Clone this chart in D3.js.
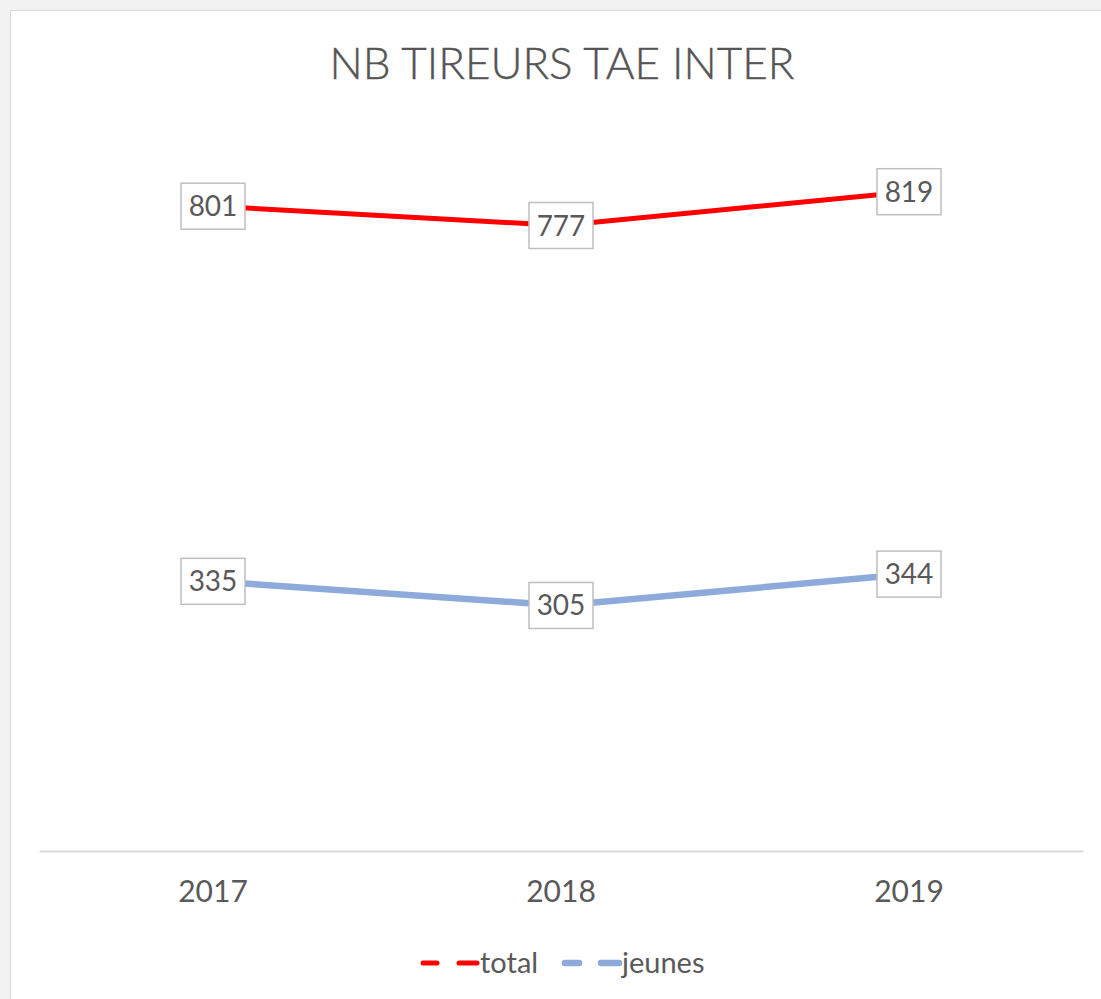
<!DOCTYPE html>
<html><head><meta charset="utf-8">
<script src="https://cdn.jsdelivr.net/npm/d3@7"></script>
<style>body{margin:0;background:#fff;}svg{display:block;}</style>
</head><body>
<script>
const categories = ["2017", "2018", "2019"];
const totalValues = [801, 777, 819];
const jeunesValues = [335, 305, 344];
const seriesNames = ["total", "jeunes"];
const title = "NB TIREURS TAE INTER";

const W = 1101, H = 999;
const svg = d3.select("body").append("svg").attr("width", W).attr("height", H);
const font = "Lato, 'Open Sans', sans-serif";

// page background / frame
svg.append("rect").attr("x",0).attr("y",0).attr("width",W).attr("height",H).attr("fill","#f2f2f2");
svg.append("rect").attr("x",10.5).attr("y",10.5).attr("width",W).attr("height",H).attr("fill","#fff").attr("stroke","#d9d9d9");

const x = d3.scaleBand().domain(categories).range([39, 1083]);
const y = d3.scaleLinear().domain([0, 1000]).range([851, 46]);

svg.append("text").attr("x", 562).attr("y", 79).attr("text-anchor","middle")
  .attr("font-family", font).attr("font-weight", 300)
  .attr("font-size", 44).attr("fill", "#555").attr("stroke","#555").attr("stroke-width",0.4)
  .text(title);

// axis
const ax = svg.append("g").attr("transform", `translate(0,${y(0)})`)
  .call(d3.axisBottom(x).tickSize(0).tickPadding(30));
ax.select(".domain").attr("stroke","#d9d9d9").attr("stroke-width",2);
ax.selectAll("text").attr("font-family", font).attr("font-size", 30).attr("fill","#595959");

const series = [
  {name: seriesNames[0], values: totalValues, color: "#ff0000", width: 5},
  {name: seriesNames[1], values: jeunesValues, color: "#8eaadb", width: 6.5}
];
const line = d3.line().x((d,i)=>x(categories[i]) + x.bandwidth()/2).y(d=>y(d));

series.forEach(s => {
  svg.append("path").datum(s.values).attr("d", line).attr("fill","none")
    .attr("stroke", s.color).attr("stroke-width", s.width).attr("stroke-linejoin","round");
  const g = svg.append("g");
  s.values.forEach((v,i) => {
    const cx = x(categories[i]) + x.bandwidth()/2, cy = y(v);
    g.append("rect").attr("x", cx-32).attr("y", cy-23).attr("width",64).attr("height",46)
      .attr("fill","#fff").attr("stroke","#bfbfbf").attr("stroke-width",1.5);
    g.append("text").attr("x", cx).attr("y", cy+10).attr("text-anchor","middle")
      .attr("font-family", font).attr("font-size", 28).attr("fill","#595959").text(v);
  });
});

// legend
const legendItems = [{x: 421, s: series[0]}, {x: 563, s: series[1]}];
legendItems.forEach(l => {
  const ly = 963;
  svg.append("line").attr("x1", l.x+2).attr("x2", l.x+16).attr("y1", ly).attr("y2", ly)
    .attr("stroke", l.s.color).attr("stroke-width", l.s.width).attr("stroke-linecap","round");
  svg.append("line").attr("x1", l.x+38).attr("x2", l.x+56).attr("y1", ly).attr("y2", ly)
    .attr("stroke", l.s.color).attr("stroke-width", l.s.width).attr("stroke-linecap","round");
  svg.append("text").attr("x", l.x+59).attr("y", ly+10).attr("font-family", font)
    .attr("font-size", 29).attr("fill","#595959").text(l.s.name);
});
</script>
</body></html>
